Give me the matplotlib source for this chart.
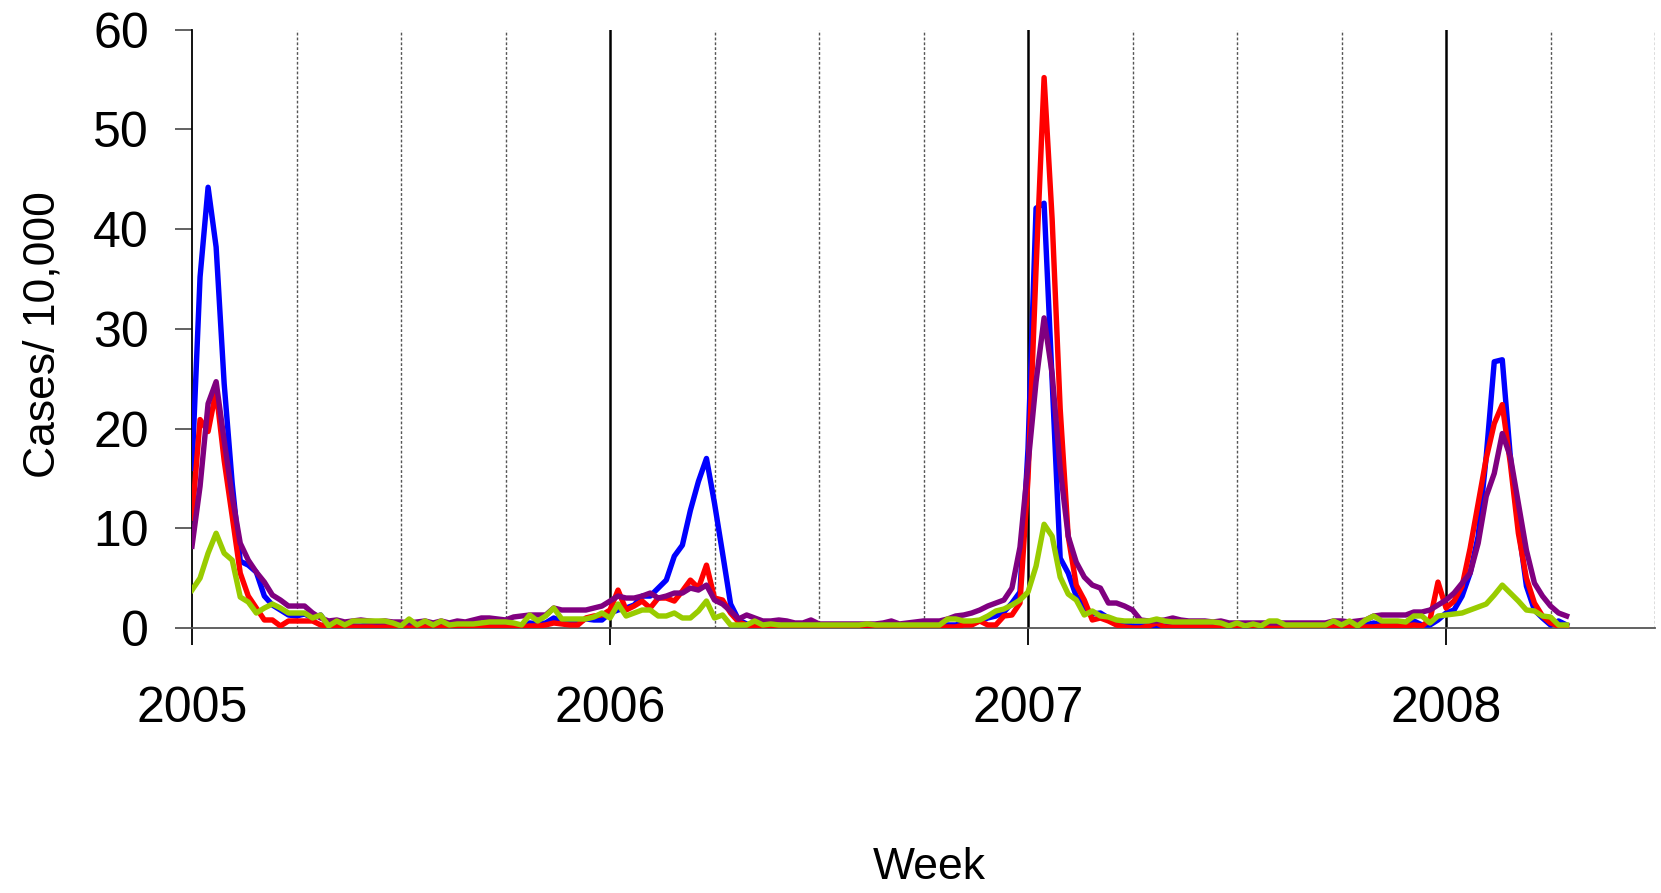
import matplotlib
matplotlib.use("Agg")
import matplotlib.pyplot as plt
import numpy as np

plt.rcParams['font.family'] = ['Liberation Sans', 'DejaVu Sans']

# weekly rates per 10,000, first week of 2005 onwards (13 weeks per row)
blue = [
    16.0, 35.2, 44.2, 38.2, 24.5, 14.5, 6.7, 6.3, 5.6, 3.2, 2.3, 1.8, 1.3,
    1.2, 1.4, 1.0, 1.3, 0.2, 0.2, 0.3, 0.2, 0.2, 0.3, 0.2, 0.2, 0.2,
    0.2, 0.2, 0.3, 0.2, 0.2, 0.2, 0.2, 0.3, 0.2, 0.2, 0.2, 0.2, 0.2,
    0.2, 0.2, 0.3, 0.5, 0.4, 0.5, 1.0, 0.7, 0.7, 0.6, 0.9, 0.8, 0.8,
    1.5, 1.8, 2.0, 2.3, 3.2, 3.2, 4.0, 4.8, 7.2, 8.3, 11.8, 14.7, 17.0,
    12.5, 7.5, 2.4, 0.8, 0.4, 0.2, 0.2, 0.2, 0.2, 0.2, 0.2, 0.2, 0.2,
    0.2, 0.2, 0.2, 0.2, 0.2, 0.2, 0.2, 0.2, 0.2, 0.2, 0.2, 0.2, 0.2,
    0.2, 0.2, 0.3, 0.3, 0.3, 0.5, 0.5, 0.7, 1.0, 1.2, 1.6, 2.5, 3.6,
    18.0, 42.1, 42.6, 24.7, 7.0, 5.5, 3.2, 2.1, 1.4, 1.5, 1.0, 0.7, 0.4,
    0.2, 0.2, 0.2, 0.2, 0.2, 0.2, 0.2, 0.2, 0.2, 0.2, 0.2, 0.2, 0.2,
    0.2, 0.2, 0.2, 0.2, 0.2, 0.2, 0.2, 0.2, 0.2, 0.2, 0.2, 0.2, 0.2,
    0.2, 0.3, 0.3, 0.3, 0.5, 0.3, 0.3, 0.3, 0.3, 0.7, 0.3, 0.3, 0.8,
    1.5, 1.8, 3.2, 5.5, 9.2, 17.2, 26.7, 26.9, 17.2, 10.2, 4.2, 1.8, 1.0,
    0.3, 0.7, 0.3,
]

red = [
    11.0, 20.9, 19.7, 23.8, 16.8, 11.2, 5.5, 3.2, 2.0, 0.8, 0.8, 0.2, 0.7,
    0.7, 0.7, 0.7, 0.3, 0.2, 0.1, 0.1, 0.1, 0.1, 0.1, 0.1, 0.1, 0.1,
    0.1, 0.1, 0.1, 0.1, 0.1, 0.1, 0.1, 0.1, 0.1, 0.1, 0.1, 0.1, 0.1,
    0.1, 0.1, 0.1, 0.2, 0.2, 0.3, 0.5, 0.4, 0.3, 0.3, 1.0, 1.2, 1.3,
    1.8, 3.8, 1.8, 2.2, 2.7, 2.0, 3.0, 3.0, 2.7, 3.7, 4.8, 4.0, 6.3,
    3.0, 2.8, 1.5, 0.6, 0.3, 0.2, 0.1, 0.1, 0.1, 0.1, 0.1, 0.1, 0.1,
    0.1, 0.1, 0.1, 0.1, 0.1, 0.1, 0.1, 0.1, 0.1, 0.1, 0.1, 0.1, 0.1,
    0.1, 0.1, 0.1, 0.1, 0.1, 0.3, 0.3, 0.7, 0.3, 0.3, 1.2, 1.3, 2.5,
    15.0, 36.0, 55.2, 41.0, 22.0, 9.2, 4.3, 2.8, 0.8, 1.0, 0.7, 0.3, 0.1,
    0.0, 0.0, 0.2, 0.5, 0.1, 0.1, 0.1, 0.1, 0.1, 0.1, 0.1, 0.1, 0.1,
    0.1, 0.1, 0.1, 0.1, 0.1, 0.1, 0.1, 0.1, 0.1, 0.1, 0.1, 0.1, 0.1,
    0.1, 0.1, 0.1, 0.1, 0.1, 0.2, 0.2, 0.2, 0.2, 0.3, 0.2, 0.8, 4.6,
    2.0, 2.7, 4.2, 8.0, 12.5, 17.0, 20.5, 22.4, 16.5, 9.5, 5.0, 2.5, 1.2,
    0.5, 0.2, 0.2,
]

purple = [
    8.2, 14.2, 22.5, 24.7, 18.8, 13.2, 8.5, 6.8, 5.6, 4.6, 3.3, 2.8, 2.2,
    2.2, 2.2, 1.5, 1.0, 0.7, 0.8, 0.6, 0.7, 0.8, 0.7, 0.6, 0.7, 0.6,
    0.6, 0.5, 0.6, 0.7, 0.5, 0.7, 0.5, 0.7, 0.6, 0.8, 1.0, 1.0, 0.9,
    0.8, 1.1, 1.2, 1.3, 1.3, 1.3, 2.0, 1.8, 1.8, 1.8, 1.8, 2.0, 2.2,
    2.7, 3.2, 3.0, 3.0, 3.2, 3.5, 3.0, 3.2, 3.5, 3.5, 4.0, 3.8, 4.3,
    2.8, 2.4, 1.7, 0.9, 1.3, 1.0, 0.7, 0.7, 0.8, 0.7, 0.5, 0.5, 0.8,
    0.4, 0.4, 0.4, 0.4, 0.4, 0.4, 0.4, 0.4, 0.5, 0.7, 0.4, 0.5, 0.6,
    0.7, 0.7, 0.7, 0.9, 1.2, 1.3, 1.5, 1.8, 2.2, 2.5, 2.8, 4.0, 8.1,
    16.4, 24.7, 31.1, 25.5, 16.0, 9.2, 6.6, 5.1, 4.3, 4.0, 2.5, 2.5, 2.2,
    1.8, 0.8, 0.7, 0.7, 0.8, 1.0, 0.8, 0.7, 0.7, 0.7, 0.6, 0.7, 0.5,
    0.5, 0.5, 0.5, 0.5, 0.5, 0.5, 0.5, 0.5, 0.5, 0.5, 0.5, 0.5, 0.7,
    0.7, 0.6, 0.7, 0.8, 1.2, 1.3, 1.3, 1.3, 1.3, 1.6, 1.6, 1.8, 2.3,
    2.8, 3.5, 4.5, 5.5, 8.5, 13.2, 15.5, 19.5, 17.2, 12.5, 7.8, 4.5, 3.2,
    2.2, 1.5, 1.2,
]

green = [
    3.8, 5.0, 7.5, 9.5, 7.5, 6.8, 3.1, 2.6, 1.5, 2.0, 2.4, 2.0, 1.5,
    1.5, 1.5, 1.0, 1.3, 0.2, 0.7, 0.3, 0.7, 0.7, 0.7, 0.7, 0.7, 0.5,
    0.2, 0.9, 0.3, 0.7, 0.3, 0.7, 0.3, 0.4, 0.4, 0.4, 0.5, 0.6, 0.6,
    0.6, 0.5, 0.3, 1.3, 0.7, 1.2, 2.0, 0.9, 0.9, 0.9, 0.9, 1.1, 1.5,
    1.0, 2.4, 1.2, 1.5, 1.8, 1.8, 1.2, 1.2, 1.5, 1.0, 1.0, 1.7, 2.7,
    1.0, 1.3, 0.3, 0.3, 0.3, 0.7, 0.3, 0.4, 0.3, 0.3, 0.3, 0.3, 0.3,
    0.3, 0.3, 0.3, 0.3, 0.3, 0.3, 0.4, 0.3, 0.3, 0.3, 0.3, 0.3, 0.3,
    0.3, 0.3, 0.3, 0.9, 0.9, 0.7, 0.7, 0.8, 1.2, 1.7, 1.9, 2.3, 2.8,
    3.6, 6.2, 10.4, 9.2, 5.1, 3.4, 2.8, 1.3, 1.7, 1.2, 1.1, 0.8, 0.7,
    0.7, 0.7, 0.7, 0.9, 0.7, 0.6, 0.6, 0.6, 0.6, 0.6, 0.6, 0.5, 0.2,
    0.5, 0.2, 0.4, 0.2, 0.7, 0.7, 0.3, 0.3, 0.3, 0.3, 0.3, 0.3, 0.7,
    0.3, 0.7, 0.2, 0.8, 1.2, 0.7, 0.7, 0.7, 0.6, 1.2, 1.2, 0.5, 1.2,
    1.3, 1.4, 1.5, 1.8, 2.1, 2.4, 3.3, 4.3, 3.5, 2.7, 1.8, 1.7, 1.2,
    1.1, 0.3, 0.3,
]

years = [2005, 2006, 2007, 2008]
y_ticks = [0, 10, 20, 30, 40, 50, 60]

weeks = 2005 + np.arange(len(blue)) / 52.0

fig = plt.figure(figsize=(16.61, 8.93), dpi=100)
ax = fig.add_axes([0.1156, 0.2968, 0.8808, 0.6699])

# quarter gridlines (dotted) and year lines (solid)
for q in np.arange(2005.25, 2008.51, 0.25):
    if abs(q - round(q)) < 1e-6:
        ax.axvline(q, color='black', lw=1.8, zorder=1)
    else:
        ax.axvline(q, color='#555555', lw=1.0, ls=(0, (2, 1.5)), zorder=1)

ax.plot(weeks, blue, color='#0000FF', lw=3.9, zorder=3)
ax.plot(weeks, red, color='#FF0000', lw=3.9, zorder=4)
ax.plot(weeks, purple, color='#800080', lw=3.9, zorder=5)
ax.plot(weeks, green, color='#99CC00', lw=3.9, zorder=6)

ax.set_xlim(2005, 2008.5)
ax.set_ylim(0, 60)
ax.set_xticks(years)
ax.set_xticklabels([str(y) for y in years])
ax.set_yticks(y_ticks)

for s in ['top', 'right']:
    ax.spines[s].set_visible(False)
ax.spines['left'].set_color('black')
ax.spines['left'].set_linewidth(1.3)
ax.spines['bottom'].set_color('#555555')
ax.spines['bottom'].set_linewidth(1.3)

ax.tick_params(axis='y', direction='out', length=12, width=1.3, color='#555555',
               pad=19, labelsize=36)
ax.tick_params(axis='x', direction='out', length=12, width=1.3, color='black',
               pad=30, labelsize=36)

ax.set_ylabel('Cases/ 10,000', fontsize=32)
ax.yaxis.set_label_coords(-0.088, 0.49)
ax.set_xlabel('Week', fontsize=32)
ax.xaxis.set_label_coords(0.504, -0.366)

fig.savefig('out.png', dpi=100)
